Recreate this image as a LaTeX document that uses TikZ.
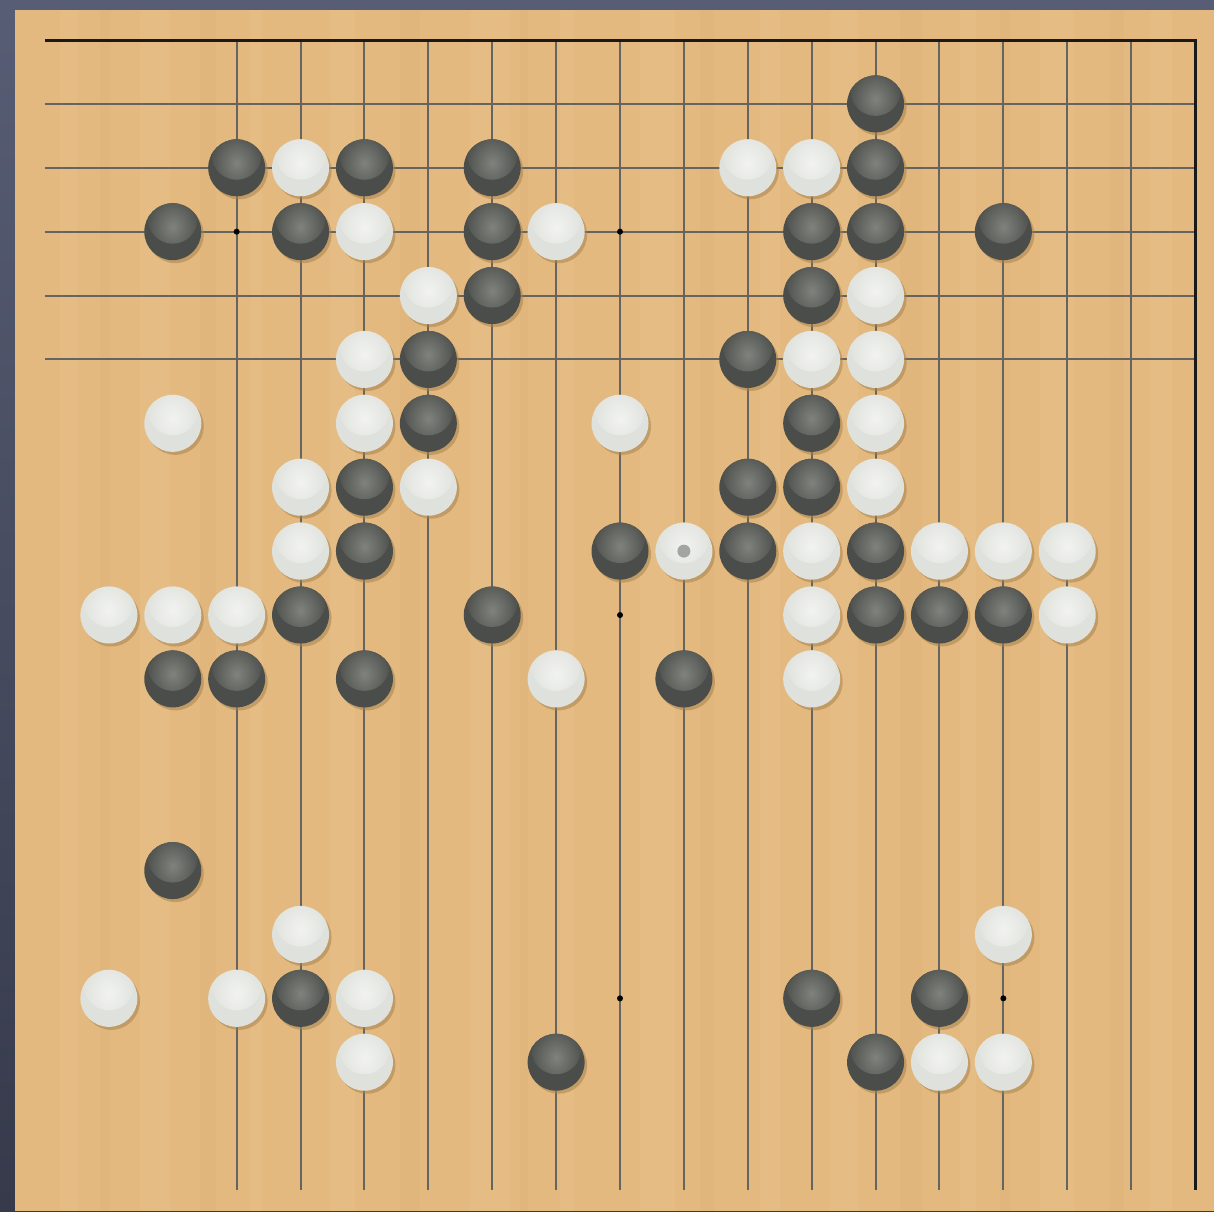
\documentclass[tikz,border=0pt]{standalone}
\usetikzlibrary{calc}
\definecolor{frameTop}{HTML}{575D74}
\definecolor{frameBot}{HTML}{363A4B}
\definecolor{wood}{HTML}{E3B97F}
\definecolor{woodLight}{HTML}{EBC68F}
\definecolor{woodDark}{HTML}{D8AC70}
\definecolor{gridGray}{HTML}{646460}
\definecolor{stoneB}{HTML}{4A4D49}
\definecolor{stoneBHi}{HTML}{80827D}
\definecolor{stoneW}{HTML}{DFE1DC}
\definecolor{stoneWHi}{HTML}{F2F3F0}
\definecolor{shadowC}{HTML}{A8834F}
\definecolor{markC}{HTML}{A3A5A2}
\tikzset{
  gridline/.style={draw=gridGray, line width=0.04cm},
  edgeline/.style={draw=black!90, line width=0.06cm},
  hoshi/.style={circle, fill=black, inner sep=0pt, minimum size=0.12cm},
  stone/.style={circle, inner sep=0pt, minimum size=1.14cm},
  bst/.style={stone, fill=stoneB,
    path picture={\shade[inner color=stoneBHi, outer color=stoneB]
      ([yshift=0.26cm]path picture bounding box.center) circle (0.5cm);}},
  wst/.style={stone, fill=stoneW,
    path picture={\shade[inner color=stoneWHi, outer color=stoneW]
      ([yshift=0.26cm]path picture bounding box.center) circle (0.5cm);}},
  shadowst/.style={circle, fill=shadowC, fill opacity=0.55, inner sep=0pt, minimum size=1.14cm},
  marker/.style={circle, fill=markC, inner sep=0pt, minimum size=0.26cm}
}
\begin{document}
\begin{tikzpicture}[x=0.02cm, y=-0.02cm]
\useasboundingbox (0,0) rectangle (1214,1211);
% frame
\shade[top color=frameTop, bottom color=frameBot] (0,0) rectangle (1214,1211);
% wood
\fill[wood] (15,10) rectangle (1214,1211);
\foreach \sx/\sw in {60/18, 140/30, 250/12, 330/25, 470/40, 560/14, 640/35, 760/20, 830/28, 960/16, 1040/34, 1150/22}
  \fill[woodLight, opacity=0.3] (\sx,10) rectangle ({\sx+\sw},1211);
\foreach \sx/\sw in {100/10, 200/16, 400/20, 520/8, 700/14, 900/22, 1000/10, 1110/14}
  \fill[woodDark, opacity=0.2] (\sx,10) rectangle ({\sx+\sw},1211);
% grid: horizontal lines (rows 1-5), vertical lines (cols 3-17)
\foreach \r in {1,...,5}
  \draw[gridline] (45,{40+\r*63.89}) -- (1195,{40+\r*63.89});
\foreach \c in {3,...,17}
  \draw[gridline] ({45+\c*63.89},40) -- ({45+\c*63.89},1190);
% edges
\draw[edgeline] (45,40) -- (1195,40) -- (1195,1190);
% star points
\foreach \c/\r in {3/3,9/3,15/3,3/9,9/9,15/9,3/15,9/15,15/15}
  \node[hoshi] (h-\c-\r) at ({45+\c*63.89},{40+\r*63.89}) {};
% stones: shadows
\foreach \c/\r in {13/1,3/2,5/2,7/2,13/2,2/3,4/3,7/3,12/3,13/3,15/3,7/4,12/4,6/5,11/5,6/6,12/6,5/7,11/7,12/7,5/8,9/8,11/8,13/8,4/9,7/9,13/9,14/9,15/9,2/10,3/10,5/10,10/10,2/13,4/15,12/15,14/15,8/16,13/16,
  4/2,11/2,12/2,5/3,8/3,6/4,13/4,5/5,12/5,13/5,2/6,5/6,9/6,13/6,4/7,6/7,13/7,4/8,10/8,12/8,14/8,15/8,16/8,1/9,2/9,3/9,12/9,16/9,8/10,12/10,4/14,15/14,1/15,3/15,5/15,5/16,14/16,15/16}
  \node[shadowst] (sh-\c-\r) at ({45+\c*63.89+2.5},{40+\r*63.89+3}) {};
% black stones
\foreach \c/\r in {13/1,3/2,5/2,7/2,13/2,2/3,4/3,7/3,12/3,13/3,15/3,7/4,12/4,6/5,11/5,6/6,12/6,5/7,11/7,12/7,5/8,9/8,11/8,13/8,4/9,7/9,13/9,14/9,15/9,2/10,3/10,5/10,10/10,2/13,4/15,12/15,14/15,8/16,13/16}
  \node[bst] (b-\c-\r) at ({45+\c*63.89},{40+\r*63.89}) {};
% white stones
\foreach \c/\r in {4/2,11/2,12/2,5/3,8/3,6/4,13/4,5/5,12/5,13/5,2/6,5/6,9/6,13/6,4/7,6/7,13/7,4/8,10/8,12/8,14/8,15/8,16/8,1/9,2/9,3/9,12/9,16/9,8/10,12/10,4/14,15/14,1/15,3/15,5/15,5/16,14/16,15/16}
  \node[wst] (w-\c-\r) at ({45+\c*63.89},{40+\r*63.89}) {};
% last-move marker
\node[marker] (mk) at (w-10-8.center) {};
\end{tikzpicture}
\end{document}
